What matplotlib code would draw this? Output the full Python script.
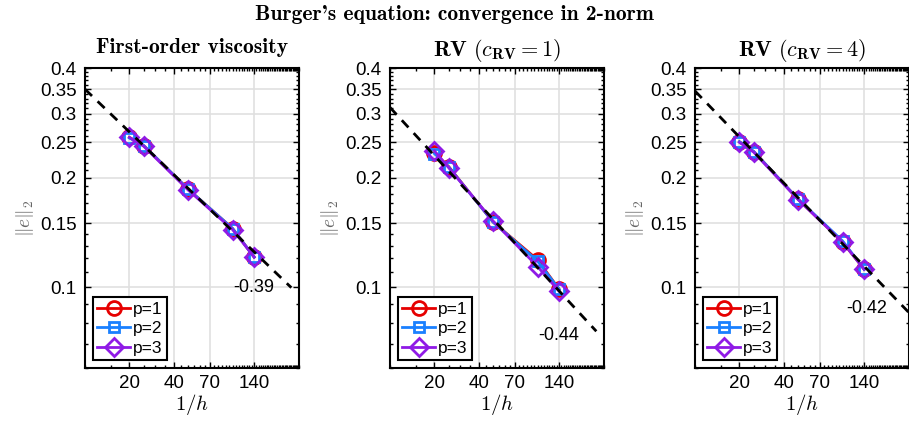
import numpy as np
import matplotlib
matplotlib.use("Agg")
import matplotlib.pyplot as plt
from matplotlib.ticker import FixedLocator, NullFormatter

plt.rcParams['font.family'] = ['Liberation Sans', 'DejaVu Sans']
plt.rcParams['mathtext.fontset'] = 'cm'

# ---------------- data ----------------
inv_h = [20, 25, 50, 100, 140]

titles = [r"First-order viscosity", r"$\mathbf{RV}\ (c_{\mathbf{RV}} = 1)$", r"$\mathbf{RV}\ (c_{\mathbf{RV}} = 4)$"]

err_fo_p1 = [0.258, 0.245, 0.186, 0.145, 0.121]
err_fo_p2 = [0.257, 0.245, 0.186, 0.145, 0.121]
err_fo_p3 = [0.258, 0.244, 0.185, 0.144, 0.121]

err_rv1_p1 = [0.234, 0.2145, 0.151, 0.119, 0.0987]
err_rv1_p2 = [0.233, 0.214, 0.151, 0.118, 0.0987]
err_rv1_p3 = [0.237, 0.213, 0.152, 0.114, 0.0975]

err_rv4_p1 = [0.251, 0.236, 0.1745, 0.133, 0.112]
err_rv4_p2 = [0.251, 0.236, 0.1745, 0.134, 0.112]
err_rv4_p3 = [0.250, 0.235, 0.174, 0.133, 0.112]

# reference slope lines: value at 1/h = 10, slope, x-range end
ref_c10 = [0.35, 0.312, 0.346]
ref_slope = [-0.39, -0.44, -0.42]
ref_xend = [250, 250, 280]
slope_labels = ["-0.39", "-0.44", "-0.42"]
slope_label_pos = [(140, 0.1), (140, 0.0736), (145, 0.0874)]

series_labels = ["p=1", "p=2", "p=3"]
xticks = [20, 40, 70, 140]
yticks = [0.1, 0.15, 0.2, 0.25, 0.3, 0.35, 0.4]
ytick_labels = ["0.1", "0.15", "0.2", "0.25", "0.3", "0.35", "0.4"]

all_err = [[err_fo_p1, err_fo_p2, err_fo_p3],
           [err_rv1_p1, err_rv1_p2, err_rv1_p3],
           [err_rv4_p1, err_rv4_p2, err_rv4_p3]]

colors = ['#e60000', '#1a80ff', '#8f1ae6']
markers = ['o', 's', 'D']
msizes = [10, 7.5, 9]

fig = plt.figure(figsize=(9.09, 4.23), dpi=100)
lefts = [0.0935, 0.429, 0.7646]
W, B, H = 0.235, 0.130, 0.709

for i in range(3):
    ax = fig.add_axes([lefts[i], B, W, H])
    ax.set_xscale('log')
    ax.set_yscale('log')
    ax.set_xlim(10, 280)
    ax.set_ylim(0.06, 0.4)
    for j in range(3):
        ax.plot(inv_h, all_err[i][j], color=colors[j], marker=markers[j],
                markersize=msizes[j], markerfacecolor='none', markeredgewidth=2.0,
                linewidth=2.0, label=series_labels[j], zorder=3 + j)
    xs = np.array([10, ref_xend[i]], dtype=float)
    ax.plot(xs, ref_c10[i] * (xs / 10.0) ** ref_slope[i], color='black',
            linestyle=(0, (3.5, 2.8)), linewidth=2.0, zorder=7)
    ax.text(slope_label_pos[i][0], slope_label_pos[i][1], slope_labels[i],
            ha='center', va='center', fontsize=13, zorder=8)

    ax.xaxis.set_major_locator(FixedLocator(xticks))
    ax.set_xticklabels([str(t) for t in xticks])
    ax.xaxis.set_minor_locator(FixedLocator([v for v in range(10, 281, 5) if v not in xticks]))
    ax.xaxis.set_minor_formatter(NullFormatter())
    ax.yaxis.set_major_locator(FixedLocator(yticks))
    ax.set_yticklabels(ytick_labels)
    ax.yaxis.set_minor_locator(FixedLocator([round(v, 2) for v in np.arange(0.06, 0.405, 0.01)
                                             if all(abs(v - t) > 1e-6 for t in yticks)]))
    ax.yaxis.set_minor_formatter(NullFormatter())

    ax.tick_params(which='both', direction='in', top=True, right=True, width=1.0,
                   labelsize=13.5, colors='black')
    ax.tick_params(which='major', length=4)
    ax.tick_params(which='minor', length=2.2)
    ax.tick_params(axis='y', which='major', pad=6)
    ax.tick_params(axis='x', which='major', pad=5)

    ax.grid(True, which='major', color='#e0e0e0', linewidth=1.2)
    ax.set_axisbelow(True)
    for s in ax.spines.values():
        s.set_linewidth(1.5)
        s.set_color('black')

    ax.set_xlabel(r"$1/h$", fontsize=15, labelpad=0)
    ax.set_ylabel(r"$\|e\|_2$", fontsize=14, color='#666666', labelpad=3)
    if i == 0:
        ax.set_title(titles[i], fontsize=15.5, fontfamily='cmb10', pad=11)
    else:
        ax.set_title(titles[i], fontsize=16, pad=9)

    leg = ax.legend(loc='lower left', fontsize=12.5, handlelength=1.9, handletextpad=0.15,
                    labelspacing=0.25, borderpad=0.25, borderaxespad=0.45, fancybox=False,
                    framealpha=1, edgecolor='black')
    leg.get_frame().set_linewidth(1.5)

fig.suptitle("Burger's equation: convergence in 2-norm", fontsize=15.5,
             fontfamily='cmb10', y=0.965, va='center')

fig.savefig("out.png", dpi=100)
